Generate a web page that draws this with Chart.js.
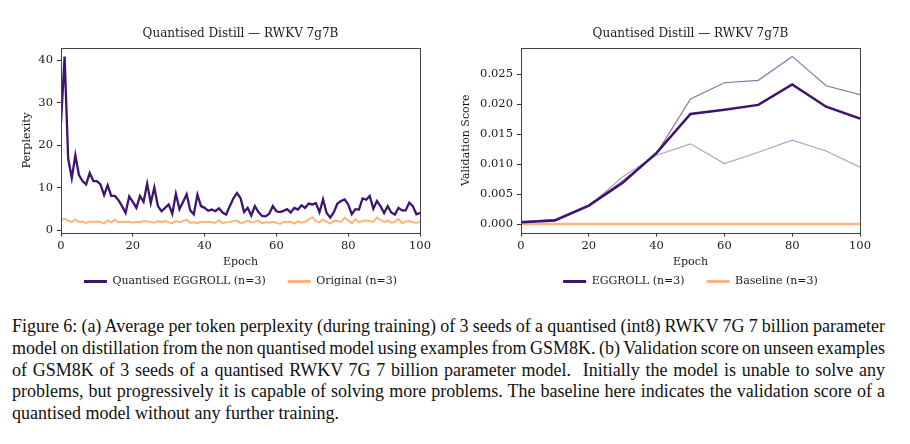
<!DOCTYPE html>
<html>
<head>
<meta charset="utf-8">
<script src="https://cdn.jsdelivr.net/npm/chart.js@4/dist/chart.umd.min.js"></script>
<style>
  body { margin: 0; background: #fff; width: 910px; height: 444px; overflow: hidden; position: relative; }
  .panel { position: absolute; top: 0; height: 300px; }
  #left { left: 0; width: 450px; }
  #right { left: 450px; width: 455px; }
  .caption { position: absolute; left: 12px; top: 316px; width: 873px;
    font-family: "Liberation Serif", "Times New Roman", serif; font-size: 18px; color: #111; }
  .caption div { height: 21.75px; line-height: 21.75px; white-space: nowrap; }
  .caption .j { text-align: justify; text-align-last: justify; word-spacing: -3px; }
</style>
</head>
<body>
<div class="panel" id="left"><canvas id="ppl"></canvas></div>
<div class="panel" id="right"><canvas id="val"></canvas></div>
<div class="caption">
  <div class="j">Figure 6: (a) Average per token perplexity (during training) of 3 seeds of a quantised (int8) RWKV 7G 7 billion parameter</div>
  <div class="j">model on distillation from the non quantised model using examples from GSM8K. (b) Validation score on unseen examples</div>
  <div class="j">of GSM8K of 3 seeds of a quantised RWKV 7G 7 billion parameter model.&nbsp; Initially the model is unable to solve any</div>
  <div class="j">problems, but progressively it is capable of solving more problems. The baseline here indicates the validation score of a</div>
  <div>quantised model without any further training.</div>
</div>
<script>
// ---- data (a): per-epoch perplexity
var epochs = Array.from({length: 101}, (_, i) => i);
var eggrollPpl = [
  25.2, 40.9, 16.9, 12.3, 17.7, 13.0, 11.6, 10.8, 13.5, 11.6,
  11.6, 10.8, 8.3, 10.6, 8.1, 8.1, 7.1, 5.7, 4.1, 8.0,
  6.7, 5.3, 8.1, 6.7, 11.0, 6.4, 10.1, 5.7, 4.5, 5.3,
  6.1, 3.9, 8.6, 5.0, 6.7, 8.5, 4.7, 3.8, 8.4, 5.7,
  5.3, 4.6, 4.9, 4.5, 5.2, 4.2, 3.7, 5.7, 7.5, 8.8,
  7.6, 4.3, 5.3, 3.5, 5.7, 4.3, 3.4, 3.3, 3.9, 5.7,
  4.5, 4.3, 4.6, 5.0, 4.2, 5.3, 4.9, 5.9, 5.3, 6.3,
  6.1, 6.4, 4.3, 7.3, 4.1, 3.0, 4.3, 6.3, 6.9, 7.3,
  6.1, 3.8, 5.0, 4.9, 7.5, 7.2, 8.1, 5.1, 6.9, 5.7,
  4.1, 5.7, 4.2, 3.7, 5.3, 4.7, 4.7, 6.5, 5.7, 3.8,
  4.1
];
var originalPpl = [
  2.4, 2.7, 2.3, 2.0, 2.5, 2.0, 2.1, 1.7, 2.1, 2.0,
  2.1, 2.0, 1.6, 2.4, 1.9, 2.5, 1.9, 2.0, 1.9, 2.0,
  1.8, 2.0, 1.9, 2.2, 2.1, 2.0, 1.8, 2.2, 1.9, 2.2,
  1.9, 1.7, 2.2, 1.9, 2.2, 2.5, 1.8, 1.9, 1.7, 2.0,
  1.9, 2.0, 1.9, 1.8, 2.4, 1.7, 1.9, 2.0, 2.2, 2.3,
  1.7, 1.9, 2.3, 1.9, 2.0, 2.3, 1.7, 1.9, 1.8, 2.0,
  1.8, 1.5, 2.0, 1.9, 2.0, 1.6, 2.1, 1.8, 2.0, 2.6,
  3.1, 2.1, 1.9, 2.5, 2.0, 1.6, 2.2, 2.2, 2.0, 3.0,
  2.3, 1.7, 2.6, 1.9, 2.2, 2.3, 2.2, 2.0, 3.0, 2.5,
  2.0, 2.3, 1.8, 2.0, 2.7, 1.7, 2.1, 2.2, 1.9, 1.8,
  2.0
];
var pplTicks = [0, 10, 20, 30, 40];

// ---- data (b): validation score every 10 epochs
var valEpochs = [0, 10, 20, 30, 40, 50, 60, 70, 80, 90, 100];
var eggrollVal = [0.0003, 0.0006, 0.0031, 0.0069, 0.0119, 0.0184, 0.0191, 0.0199, 0.0233, 0.0196, 0.0176];
var eggrollValHi = [0.0004, 0.0008, 0.0032, 0.0072, 0.0118, 0.0209, 0.0236, 0.0240, 0.0280, 0.0231, 0.0216];
var eggrollValLo = [0.0003, 0.0006, 0.0030, 0.0079, 0.0115, 0.0134, 0.0101, 0.0120, 0.0140, 0.0122, 0.0095];
var baselineVal = [0, 0, 0, 0, 0, 0, 0, 0, 0, 0, 0];
var valTicks = [0, 0.005, 0.010, 0.015, 0.020, 0.025];
var epochTicks = [0, 20, 40, 60, 80, 100];

var PURPLE = '#3d1470';
var ORANGE = '#fdb47d';
var FONT = 'DejaVu Serif';
var INK = '#1a1a1a';

Chart.defaults.font.family = FONT;
Chart.defaults.font.size = 11;
Chart.defaults.color = INK;

function pts(xs, ys) {
  return xs.map((x, i) => ({x: x, y: ys[i]}));
}

// box round the plot area (matplotlib spines)
var frame = {
  id: 'frame',
  afterDatasetsDraw(chart) {
    var a = chart.chartArea, ctx = chart.ctx;
    ctx.save();
    ctx.strokeStyle = '#444';
    ctx.lineWidth = 1;
    ctx.strokeRect(Math.round(a.left) + 0.5, Math.round(a.top) + 0.5,
                   Math.round(a.right - a.left), Math.round(a.bottom - a.top));
    ctx.restore();
  }
};

function makeOptions(o) {
  return {
    responsive: true,
    maintainAspectRatio: false,
    animation: false,
    layout: {padding: {left: 0, right: o.padRight, top: 0, bottom: 3}},
    elements: {point: {radius: 0}, line: {tension: 0}},
    plugins: {
      title: {
        display: true, text: 'Quantised Distill — RWKV 7g7B', fullSize: false,
        font: {family: FONT, size: 12, weight: 'normal'}, color: INK,
        padding: {top: 26.8, bottom: 6.8}
      },
      legend: {
        position: 'bottom', fullSize: false,
        labels: {
          boxWidth: 23, boxHeight: 3, padding: 22, color: INK,
          font: {family: FONT, size: 11},
          filter: item => item.text !== '',
          generateLabels: chart => Chart.defaults.plugins.legend.labels.generateLabels(chart)
            .map(l => Object.assign(l, {lineWidth: 0}))
        }
      },
      tooltip: {enabled: false}
    },
    scales: {
      x: {
        type: 'linear', min: 0, max: 100,
        afterBuildTicks: s => { s.ticks = epochTicks.map(v => ({value: v})); },
        afterFit: s => { s.height = 21.5; },
        grid: {drawOnChartArea: false, drawTicks: true, tickLength: 4, color: '#333'},
        border: {display: false},
        ticks: {padding: 3, color: INK, font: {family: FONT, size: 11.5}},
        title: {display: true, text: 'Epoch', color: INK, font: {family: FONT, size: 11},
                padding: {top: 0, bottom: -15}}
      },
      y: {
        min: o.yMin, max: o.yMax,
        afterBuildTicks: s => { s.ticks = o.yTicks.map(v => ({value: v})); },
        afterFit: s => { s.width = o.yWidth; },
        grid: {drawOnChartArea: false, drawTicks: true, tickLength: 4, color: '#333'},
        border: {display: false},
        ticks: {padding: 4, color: INK, font: {family: FONT, size: 11.5}, callback: o.fmt},
        title: {display: true, text: o.yTitle, color: INK, font: {family: FONT, size: 11},
                padding: {top: o.yTitlePad, bottom: 0}}
      }
    }
  };
}

new Chart(document.getElementById('ppl'), {
  type: 'line',
  data: {
    datasets: [
      {label: 'Quantised EGGROLL (n=3)', data: pts(epochs, eggrollPpl),
       borderColor: PURPLE, backgroundColor: PURPLE, borderWidth: 2.3},
      {label: 'Original (n=3)', data: pts(epochs, originalPpl),
       borderColor: ORANGE, backgroundColor: ORANGE, borderWidth: 2}
    ]
  },
  options: makeOptions({padRight: 30, yMin: -0.5, yMax: 42.9, yTicks: pplTicks, yWidth: 61,
                        yTitle: 'Perplexity', yTitlePad: 21, fmt: v => String(v)}),
  plugins: [frame]
});

new Chart(document.getElementById('val'), {
  type: 'line',
  data: {
    datasets: [
      {label: 'EGGROLL (n=3)', data: pts(valEpochs, eggrollVal),
       borderColor: PURPLE, backgroundColor: PURPLE, borderWidth: 2.5},
      {label: 'Baseline (n=3)', data: pts(valEpochs, baselineVal),
       borderColor: ORANGE, backgroundColor: ORANGE, borderWidth: 2.5},
      {label: '', data: pts(valEpochs, eggrollValHi),
       borderColor: 'rgba(61,20,112,0.6)', borderWidth: 1.2},
      {label: '', data: pts(valEpochs, eggrollValLo),
       borderColor: 'rgba(61,20,112,0.4)', borderWidth: 1.2}
    ]
  },
  options: makeOptions({padRight: 45, yMin: -0.0014, yMax: 0.0294, yTicks: valTicks, yWidth: 71,
                        yTitle: 'Validation Score', yTitlePad: 10, fmt: v => v.toFixed(3)}),
  plugins: [frame]
});
</script>
</body>
</html>
